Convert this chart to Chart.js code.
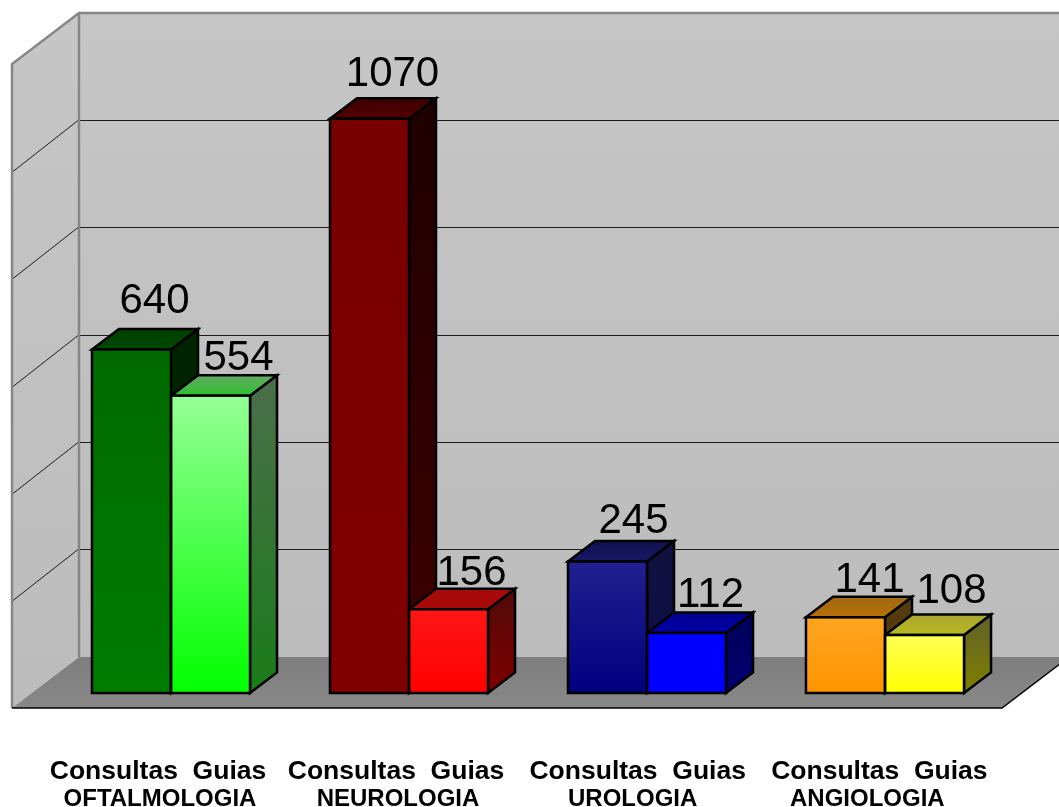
<!DOCTYPE html>
<html>
<head>
<meta charset="utf-8">
<title>Consultas e Guias</title>
<script src="https://cdn.jsdelivr.net/npm/chart.js@4/dist/chart.umd.min.js"></script>
<style>
    body { margin: 0; background: #fff; }
    canvas { display: block; }
</style>
</head>
<body>
<canvas id="grafico" width="1059" height="807"></canvas>
<script>
// 1. DATA
const categorias = ['Consultas  Guias', 'Consultas  Guias', ' Consultas  Guias', '  Consultas  Guias'];
const especialidades = ['OFTALMOLOGIA', 'NEUROLOGIA', 'UROLOGIA ', 'ANGIOLOGIA  '];
const consultas = [640, 1070, 245, 141];
const guias = [554, 156, 112, 108];
const yTicks = { min: 0, max: 1200, step: 200 };

// 2. COLOURS, one [top, bottom] pair per face per category
const frente = [
    [['#006a00', '#007c00'], ['#780000', '#800000'], ['#20208f', '#000080'], ['#ffa520', '#ff9500']],
    [['#96ff96', '#00ff00'], ['#ff1616', '#ff0000'], ['#0000ff', '#0000ff'], ['#ffff55', '#ffff00']]
];
const lado = [
    [['#002400', '#002c00'], ['#1e0000', '#400000'], ['#12123f', '#0c0c4a'], ['#553a10', '#5a3a0c']],
    [['#4c6e4c', '#1a7c1a'], ['#500a0a', '#800000'], ['#000058', '#000070'], ['#60602a', '#808000']]
];
const topo = [
    [['#004000', '#004800'], ['#3c0000', '#540000'], ['#10104e', '#181868'], ['#a06810', '#b87008']],
    [['#64aa64', '#2cc02c'], ['#a80a0a', '#a80a0a'], ['#000090', '#0000a8'], ['#a8a830', '#b8b820']]
];

// value labels were moved by hand in the original, so each has its own nudge
const nudgeX = [[23, 23, 26, 24], [28, 23, 24, 27]];
const nudgeY = [[37, 33, 29, 25], [26, 24, 26, 32]];

// bar depth and box depth in pixels
const barDX = 27, barDY = 20.5;
const boxBackDX = 27, boxBackDY = 36, boxFrontDX = 40, boxFrontDY = 15;
const contorno = 2.5;

function grad(ctx, yA, yB, cores) {
    const g = ctx.createLinearGradient(0, yA, 0, yB);
    g.addColorStop(0, cores[0]);
    g.addColorStop(1, cores[1]);
    return g;
}

function poligono(ctx, pts, fill, stroke, width) {
    ctx.beginPath();
    pts.forEach((p, i) => i ? ctx.lineTo(p[0], p[1]) : ctx.moveTo(p[0], p[1]));
    ctx.closePath();
    ctx.fillStyle = fill;
    ctx.fill();
    if (stroke) {
        ctx.strokeStyle = stroke;
        ctx.lineWidth = width;
        ctx.lineJoin = 'miter';
        ctx.stroke();
    }
}

// 3. 3D BOX AND BAR FACES, everything positioned from the chart scales
const caixa3d = {
    id: 'caixa3d',
    beforeDatasetsDraw(chart) {
        const { ctx, chartArea: area, scales: { y } } = chart;
        const base = y.getPixelForValue(yTicks.min);
        const cima = y.getPixelForValue(yTicks.max);
        const backX = area.left + boxBackDX, backBase = base - boxBackDY, backTop = cima - boxBackDY;
        const frontX = area.left - boxFrontDX, frontBase = base + boxFrontDY;
        const wallDrop = boxBackDY + boxFrontDY;
        const frontRight = area.right - 2;
        const dx = backX - frontX;

        ctx.save();
        // back wall
        poligono(ctx, [[backX, backTop], [1070, backTop], [1070, backBase], [backX, backBase]],
            grad(ctx, backTop, backBase, ['#c6c6c6', '#bcbcbc']));
        // left wall
        poligono(ctx, [[frontX, backTop + wallDrop], [backX, backTop], [backX, backBase], [frontX, frontBase]],
            grad(ctx, backTop, frontBase, ['#c6c6c6', '#bcbcbc']));
        // floor
        poligono(ctx, [[frontX, frontBase], [backX, backBase], [frontRight + dx, backBase], [frontRight, frontBase]],
            grad(ctx, backBase, frontBase, ['#7e7e7e', '#888888']));

        // gridlines
        ctx.strokeStyle = '#1c1c1c';
        ctx.lineWidth = 1;
        y.ticks.forEach(t => {
            if (t.value <= yTicks.min || t.value >= yTicks.max) return;
            const py = Math.floor(y.getPixelForValue(t.value) - boxBackDY + 0.2) + 0.5;
            ctx.beginPath();
            ctx.moveTo(frontX + 1, py + wallDrop);
            ctx.lineTo(backX - 1, py);
            ctx.moveTo(backX + 1, py);
            ctx.lineTo(1060, py);
            ctx.stroke();
        });

        // grey box edges
        ctx.strokeStyle = '#868686';
        ctx.lineWidth = 2.5;
        ctx.beginPath();
        ctx.moveTo(frontX, frontBase);
        ctx.lineTo(frontX, backTop + wallDrop);
        ctx.lineTo(backX, backTop);
        ctx.lineTo(1060, backTop);
        ctx.moveTo(backX, backTop);
        ctx.lineTo(backX, backBase);
        ctx.stroke();

        // floor front edge
        ctx.strokeStyle = '#000';
        ctx.lineWidth = 1.5;
        ctx.beginPath();
        ctx.moveTo(frontX, frontBase);
        ctx.lineTo(frontRight, frontBase);
        ctx.lineTo(frontRight + dx, backBase);
        ctx.stroke();

        // side and top faces, first series first so the second one sits on it
        chart.data.datasets.forEach((ds, d) => {
            chart.getDatasetMeta(d).data.forEach((bar, i) => {
                const l = bar.x - bar.width / 2, r = bar.x + bar.width / 2;
                const t = bar.y, b = bar.base;
                poligono(ctx, [[r, t], [r + barDX, t - barDY], [r + barDX, b - barDY], [r, b]],
                    grad(ctx, t - barDY, b, lado[d][i]), '#000', contorno);
                poligono(ctx, [[l, t], [l + barDX, t - barDY], [r + barDX, t - barDY], [r, t]],
                    grad(ctx, t - barDY, t, topo[d][i]), '#000', contorno);
            });
        });
        ctx.restore();
    },
    afterDatasetsDraw(chart) {
        const { ctx } = chart;
        ctx.save();
        // front outlines, stroked here so two touching bars share one edge
        ctx.strokeStyle = '#000';
        ctx.lineWidth = contorno;
        chart.data.datasets.forEach((ds, d) => {
            chart.getDatasetMeta(d).data.forEach(bar => {
                ctx.strokeRect(bar.x - bar.width / 2, bar.y, bar.width, bar.base - bar.y);
            });
        });
        ctx.font = '42px "Liberation Sans"';
        ctx.fillStyle = '#000';
        ctx.textAlign = 'center';
        ctx.textBaseline = 'alphabetic';
        chart.data.datasets.forEach((ds, d) => {
            chart.getDatasetMeta(d).data.forEach((bar, i) => {
                ctx.fillText(ds.data[i], bar.x + nudgeX[d][i], bar.y - nudgeY[d][i]);
            });
        });
        ctx.restore();
    }
};

function corFrente(d) {
    return c => {
        const chart = c.chart;
        if (!chart.chartArea || c.dataIndex === undefined) return frente[d][0][1];
        const y = chart.scales.y;
        return grad(chart.ctx, y.getPixelForValue(c.raw), y.getPixelForValue(yTicks.min), frente[d][c.dataIndex]);
    };
}

// 4. CHART
new Chart(document.getElementById('grafico').getContext('2d'), {
    type: 'bar',
    data: {
        labels: categorias,
        datasets: [
            { label: 'Consultas', data: consultas, xAxisID: 'x', backgroundColor: corFrente(0) },
            { label: 'Guias', data: guias, xAxisID: 'x', backgroundColor: corFrente(1) }
        ]
    },
    options: {
        responsive: false,
        animation: false,
        layout: { padding: { left: 52, right: 55, top: 49, bottom: 0 } },
        datasets: {
            bar: {
                categoryPercentage: 0.664,
                barPercentage: 1,
                borderWidth: 0,
                inflateAmount: 0
            }
        },
        plugins: { legend: { display: false }, tooltip: { enabled: false } },
        scales: {
            x: {
                weight: 0,
                grid: { display: false },
                border: { display: false },
                afterFit: s => { s.height = 90; s.paddingLeft = 0; s.paddingRight = 0; },
                ticks: {
                    color: '#000',
                    maxRotation: 0,
                    autoSkip: false,
                    labelOffset: -13,
                    padding: 55,
                    font: { family: '"Liberation Sans"', size: 26.5, weight: 'bold' }
                }
            },
            // second line of each label is smaller in the original, so it gets its own axis
            x2: {
                type: 'category',
                position: 'bottom',
                weight: 1,
                offset: true,
                labels: especialidades,
                grid: { display: false, drawTicks: false },
                border: { display: false },
                afterFit: s => { s.height = 24; s.paddingLeft = 0; s.paddingRight = 0; },
                ticks: {
                    color: '#000',
                    maxRotation: 0,
                    autoSkip: false,
                    labelOffset: -11,
                    padding: 2,
                    font: { family: '"Liberation Sans"', size: 24, weight: 'bold' }
                }
            },
            y: {
                display: false,
                min: yTicks.min,
                max: yTicks.max,
                ticks: { stepSize: yTicks.step }
            }
        }
    },
    plugins: [caixa3d]
});
</script>
</body>
</html>
